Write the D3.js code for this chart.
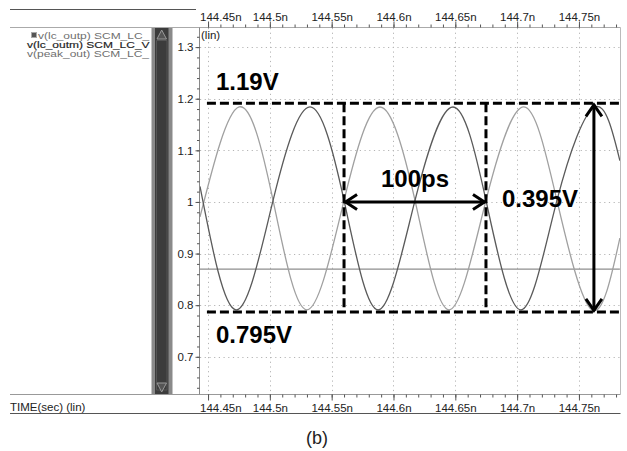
<!DOCTYPE html>
<html>
<head>
<meta charset="utf-8">
<script src="https://cdn.jsdelivr.net/npm/d3@7/dist/d3.min.js"></script>
<style>
  body { margin: 0; background: #fff; }
  svg { display: block; font-family: "Liberation Sans", Arial, sans-serif; }
</style>
</head>
<body>
<div id="app"></div>
<script>
`use strict`;

/* axis ticks */
const xTicks = [144.45, 144.5, 144.55, 144.6, 144.65, 144.7, 144.75];
const xTickLabels = [`144.45n`, `144.5n`, `144.55n`, `144.6n`, `144.65n`, `144.7n`, `144.75n`];
const yTicks = [0.7, 0.8, 0.9, 1, 1.1, 1.2, 1.3];
const yTickLabels = [`0.7`, `0.8`, `0.9`, `1`, `1.1`, `1.2`, `1.3`];

/* legend */
const legendNames = [`v(lc_outp) SCM_LC_`, `v(lc_outm) SCM_LC_V`, `v(peak_out) SCM_LC_`];

/* traces (time in ns, volts): peaks, troughs, crossings */
const outpTime = [144.4435, 144.4751, 144.5026, 144.5300, 144.5600, 144.5891, 144.6174, 144.6449, 144.6748, 144.7055, 144.7322, 144.7605, 144.7831];
const outpVolt = [0.971, 1.184, 1.003, 0.791, 1.003, 1.184, 1.003, 0.791, 1.003, 1.184, 1.003, 0.791, 0.93];
const outmTime = [144.4435, 144.4726, 144.5026, 144.5325, 144.5600, 144.5875, 144.6174, 144.6481, 144.6748, 144.7031, 144.7322, 144.7629, 144.7831];
const outmVolt = [1.03, 0.791, 1.003, 1.184, 1.003, 0.791, 1.003, 1.184, 1.003, 0.791, 1.003, 1.184, 1.08];
const peakTime = [144.4435, 144.7831];
const peakVolt = [0.870, 0.870];

/* annotation marks */
const guideLevels = [1.191, 0.787];
const guideStart = 144.4491;
const periodMarks = [144.5600, 144.6748];
const arrowLevel = 1.0;
const swingTime = 144.7621;
const noteTexts = [`1.19V`, `0.795V`, `100ps`, `0.395V`];

const W = 627, H = 451;
const P = {left: 200, right: 620, top: 28, bottom: 394};

let x = d3.scaleLinear().domain([144.4435, 144.7832]).range([P.left, P.right]);
let y = d3.scaleLinear().domain([0.626, 1.337]).range([395, 28]);

let SVG = d3.select(`#app`).append(`svg`).attr(`width`, W).attr(`height`, H);

SVG.append(`rect`).attr(`width`, W).attr(`height`, H).attr(`fill`, `#fff`);

/* frame lines */
SVG.append(`path`).attr(`d`, `M10 9.5H196`).attr(`stroke`, `#555`).attr(`stroke-width`, 1.2);
SVG.append(`path`).attr(`d`, `M10 27.5H620.5`).attr(`stroke`, `#aaa`);
SVG.append(`path`).attr(`d`, `M10 394.5H620.5`).attr(`stroke`, `#999`);
SVG.append(`path`).attr(`d`, `M10 413.5H620.5`).attr(`stroke`, `#555`).attr(`stroke-width`, 1.2);
SVG.append(`path`).attr(`d`, `M199.5 27.5V394.5`).attr(`stroke`, `#888`);
SVG.append(`path`).attr(`d`, `M620.5 27.5V394.5`).attr(`stroke`, `#bbb`);

/* legend (rows are squeezed vertically, as in the tool) */
let legend = SVG.append(`g`);
legend.append(`clipPath`).attr(`id`, `legclip`).append(`rect`).attr(`x`, 0).attr(`y`, 0).attr(`width`, 150).attr(`height`, 80);
legend.append(`rect`).attr(`x`, 31.5).attr(`y`, 32.5).attr(`width`, 5).attr(`height`, 5).attr(`fill`, `#555`).attr(`stroke`, `#aaa`);
legend.append(`g`).attr(`clip-path`, `url(#legclip)`).selectAll(`text`).data(legendNames).enter().append(`text`)
  .attr(`transform`, (d, i) => `translate(${i === 0 ? 38 : 27},${38.5 + i * 9.3}) scale(1,0.74)`)
  .attr(`font-size`, `12px`)
  .attr(`fill`, (d, i) => i === 1 ? `#222` : `#6f6f6f`)
  .attr(`stroke`, (d, i) => i === 1 ? `#222` : `none`)
  .attr(`stroke-width`, 0.2)
  .text(d => d);

/* scroll bar */
SVG.append(`rect`).attr(`x`, 151.5).attr(`y`, 28).attr(`width`, 21).attr(`height`, 366).attr(`fill`, `#8a8a8a`);
SVG.append(`rect`).attr(`x`, 155).attr(`y`, 28).attr(`width`, 13.5).attr(`height`, 366).attr(`fill`, `#3c3c3c`);
SVG.append(`path`).attr(`d`, `M156.5 40.5H167V390H156.5Z`).attr(`fill`, `none`).attr(`stroke`, `#555`);
SVG.append(`path`).attr(`d`, `M157 39L161.7 30L166.5 39Z`).attr(`fill`, `#555`).attr(`stroke`, `#999`);
SVG.append(`path`).attr(`d`, `M157 383L161.7 392L166.5 383Z`).attr(`fill`, `#555`).attr(`stroke`, `#999`);

/* grid */
let grid = SVG.append(`g`).attr(`stroke`, `#b5b5b5`).attr(`stroke-dasharray`, `1.2,3.5`);
grid.selectAll(`.gx`).data(xTicks).enter().append(`line`).attr(`class`, `gx`)
  .attr(`x1`, d => Math.round(x(d)) + 0.5).attr(`x2`, d => Math.round(x(d)) + 0.5).attr(`y1`, P.top).attr(`y2`, P.bottom);
grid.selectAll(`.gy`).data(yTicks).enter().append(`line`).attr(`class`, `gy`)
  .attr(`y1`, d => Math.round(y(d)) + 0.5).attr(`y2`, d => Math.round(y(d)) + 0.5).attr(`x1`, P.left).attr(`x2`, P.right);

/* axes */
let xMinor = d3.range(144.44, 144.785, 0.01).filter(d => d > x.domain()[0] && d < x.domain()[1]);
let yMinor = d3.range(0.64, 1.33, 0.02);

function styleAxis (g) {
  g.select(`.domain`).remove();
  g.selectAll(`line`).attr(`stroke`, `#555`);
  g.selectAll(`text`).attr(`fill`, `#222`).attr(`font-size`, `11.5px`).attr(`font-family`, `"Liberation Sans", Arial, sans-serif`);
}

function clampLabels (g) {
  g.selectAll(`.tick text`).each(function () {
    let t = d3.select(this), w = this.getComputedTextLength();
    let cx = +d3.select(this.parentNode).attr(`transform`).match(/translate\(([-\d.]+)/)[1];
    if (cx - w / 2 < P.left) t.attr(`dx`, P.left - (cx - w / 2));
  });
}

SVG.append(`g`).attr(`transform`, `translate(0,27.5)`).call(d3.axisTop(x).tickValues(xMinor).tickSize(3).tickFormat(``)).call(styleAxis);
SVG.append(`g`).attr(`transform`, `translate(0,27.5)`).call(d3.axisTop(x).tickValues(xTicks).tickSize(6).tickPadding(1).tickFormat((d, i) => xTickLabels[i])).call(styleAxis).call(clampLabels);

SVG.append(`g`).attr(`transform`, `translate(0,394.5)`).call(d3.axisBottom(x).tickValues(xMinor).tickSize(3).tickFormat(``)).call(styleAxis);
SVG.append(`g`).attr(`transform`, `translate(0,394.5)`).call(d3.axisBottom(x).tickValues(xTicks).tickSize(6).tickPadding(3).tickFormat((d, i) => xTickLabels[i])).call(styleAxis).call(clampLabels);

SVG.append(`g`).attr(`transform`, `translate(199.5,0)`).call(d3.axisLeft(y).tickValues(yMinor).tickSize(2.5).tickFormat(``)).call(styleAxis);
SVG.append(`g`).attr(`transform`, `translate(199.5,0)`).call(d3.axisLeft(y).tickValues(yTicks).tickSize(4).tickPadding(2).tickFormat((d, i) => yTickLabels[i])).call(styleAxis);

SVG.append(`text`).attr(`x`, 201).attr(`y`, 39).attr(`font-size`, `11.5px`).attr(`fill`, `#222`).text(`(lin)`);
SVG.append(`text`).attr(`x`, 10).attr(`y`, 411).attr(`font-size`, `11.5px`).attr(`fill`, `#222`).text(`TIME(sec) (lin)`);

/* traces */
SVG.append(`clipPath`).attr(`id`, `plotclip`).append(`rect`).attr(`x`, P.left).attr(`y`, P.top).attr(`width`, P.right - P.left).attr(`height`, P.bottom - P.top);

let line = d3.line().x(d => x(d[0])).y(d => y(d[1])).curve(d3.curveNatural);
let traces = [
  [d3.zip(peakTime, peakVolt), `#8e8e8e`, 1.3],
  [d3.zip(outpTime, outpVolt), `#a0a0a0`, 1.3],
  [d3.zip(outmTime, outmVolt), `#5a5a5a`, 1.3]
];
SVG.append(`g`).attr(`clip-path`, `url(#plotclip)`).selectAll(`path`).data(traces).enter().append(`path`)
  .attr(`d`, d => line(d[0])).attr(`fill`, `none`).attr(`stroke`, d => d[1]).attr(`stroke-width`, d => d[2]);

/* annotations */
let note = SVG.append(`g`).attr(`stroke`, `#000`).attr(`stroke-width`, 3).attr(`fill`, `none`);
guideLevels.forEach(v => {
  note.append(`line`).attr(`x1`, x(guideStart)).attr(`x2`, P.right).attr(`y1`, y(v)).attr(`y2`, y(v)).attr(`stroke-dasharray`, `9,4`);
});
periodMarks.forEach(t => {
  note.append(`line`).attr(`x1`, x(t)).attr(`x2`, x(t)).attr(`y1`, y(guideLevels[0])).attr(`y2`, y(guideLevels[1])).attr(`stroke-dasharray`, `9,4`);
});

let ax0 = x(periodMarks[0]), ax1 = x(periodMarks[1]), ay = y(arrowLevel);
note.append(`line`).attr(`x1`, ax0 + 1).attr(`x2`, ax1 - 1).attr(`y1`, ay).attr(`y2`, ay);
note.append(`path`).attr(`d`, `M${ax0 + 13} ${ay - 7.5}L${ax0 + 1.5} ${ay}L${ax0 + 13} ${ay + 7.5}`);
note.append(`path`).attr(`d`, `M${ax1 - 13} ${ay - 7.5}L${ax1 - 1.5} ${ay}L${ax1 - 13} ${ay + 7.5}`);

let sx = x(swingTime), sy0 = y(guideLevels[0]), sy1 = y(guideLevels[1]);
note.append(`line`).attr(`x1`, sx).attr(`x2`, sx).attr(`y1`, sy0 + 1).attr(`y2`, sy1 - 1);
note.append(`path`).attr(`d`, `M${sx - 8} ${sy0 + 13}L${sx} ${sy0 + 1.5}L${sx + 8} ${sy0 + 13}`);
note.append(`path`).attr(`d`, `M${sx - 8} ${sy1 - 13}L${sx} ${sy1 - 1.5}L${sx + 8} ${sy1 - 13}`);

let labels = SVG.append(`g`).attr(`font-size`, `24px`).attr(`font-weight`, `bold`).attr(`fill`, `#000`);
labels.append(`text`).attr(`x`, x(guideStart) + 9).attr(`y`, y(guideLevels[0]) - 13).text(noteTexts[0]);
labels.append(`text`).attr(`x`, x(guideStart) + 9).attr(`y`, y(guideLevels[1]) + 31).text(noteTexts[1]);
labels.append(`text`).attr(`x`, (ax0 + ax1) / 2).attr(`y`, ay - 15).attr(`text-anchor`, `middle`).text(noteTexts[2]);
labels.append(`text`).attr(`x`, ax1 + 16).attr(`y`, ay + 5).text(noteTexts[3]);

/* caption */
SVG.append(`text`).attr(`x`, 317).attr(`y`, 444).attr(`text-anchor`, `middle`).attr(`font-size`, `18px`).attr(`fill`, `#222`).text(`(b)`);
</script>
</body>
</html>
